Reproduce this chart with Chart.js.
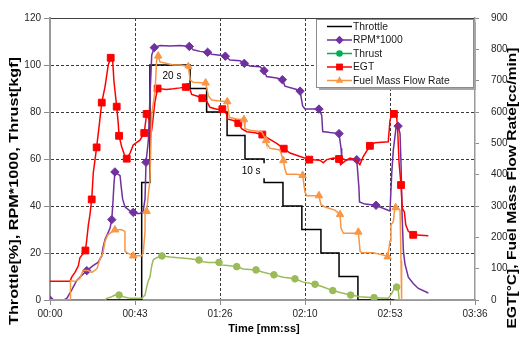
<!DOCTYPE html>
<html>
<head>
<meta charset="utf-8">
<script src="https://cdn.jsdelivr.net/npm/chart.js@4.4.1/dist/chart.umd.min.js"></script>
<style>
html,body{margin:0;padding:0;background:#fff;}
canvas{display:block;}
</style>
</head>
<body>
<canvas id="c" width="520" height="337"></canvas>
<script>
// ---------- DATA ----------
const xTickValues = [0, 43.2, 86.4, 129.6, 172.8, 216];
const xTickLabels = ['00:00', '00:43', '01:26', '02:10', '02:53', '03:36'];

const seriesNames = ['Throttle', 'RPM*1000', 'Thrust', 'EGT', 'Fuel Mass Flow Rate'];

const throttleT = [0, 46.6, 46.6, 50.8, 50.8, 71.2, 71.2, 79.6, 79.6, 90.0, 90.0, 99.1, 99.1, 108.8, 108.8, 118.4, 118.4, 128.0, 128.0, 137.7, 137.7, 146.9, 146.9, 156.5, 156.5, 175];
const throttleV = [0, 0, 50, 50, 100, 100, 90, 90, 80, 80, 70, 70, 60, 60, 50, 50, 40, 40, 30, 30, 20, 20, 10, 10, 0, 0];

const rpmT = [0, 7.1, 8.6, 11.0, 13.6, 16.1, 18.7, 21.9, 24.4, 26.3, 26.9, 28.0, 30.5, 31.4, 32.0, 32.5, 33.0, 35.6, 36.1, 36.9, 38.1, 40.7, 42.3, 43.2, 45.7, 47.4, 48.3, 48.8, 50.0, 50.8, 51.7, 53.0, 55.9, 61.0, 66.1, 70.8, 72.8, 76.2, 80.1, 82.2, 86.4, 89.1, 91.5, 96.6, 98.75, 101.6, 106.7, 108.8, 110.1, 115.2, 118.1, 119.4, 125.4, 127.1, 128.4, 129.6, 133.8, 136.7, 138.1, 138.6, 142.3, 146.9, 147.9, 148.25, 149.9, 155.9, 157.0, 157.3, 160.1, 165.7, 167.7, 171.8, 172.8, 173.7, 174.5, 175.8, 176.9, 177.9, 178.4, 178.9, 179.6, 180.4, 182.1, 184.6, 187.2, 192.3];
const rpmV = [0, 0, 0.8, 4.2, 8.3, 10.4, 12.5, 14.6, 16.0, 18.75, 22.2, 25.8, 30.5, 34.2, 41.7, 49.2, 54.5, 52.9, 48.75, 43.0, 39.6, 37.8, 37.3, 36.8, 36.8, 37.9, 43.0, 58.6, 68.0, 86.25, 104.2, 107.4, 108.3, 108.1, 108.3, 107.9, 106.5, 105.8, 105.4, 104.6, 104.2, 103.75, 102.1, 101.8, 100.7, 99.6, 99.3, 97.6, 95.1, 94.5, 93.75, 91.0, 89.6, 88.9, 82.6, 81.25, 81.25, 81.25, 78.5, 71.7, 71.25, 70.8, 64.6, 60.4, 59.7, 59.7, 47.9, 41.7, 40.8, 40.3, 39.6, 38.2, 37.9, 54.2, 63.9, 72.9, 74.0, 70.8, 58.3, 37.5, 20.8, 15.4, 9.7, 7.0, 4.9, 3.0];
const rpmMarkT = [0, 18.7, 31.4, 33.0, 42.3, 48.8, 53.0, 70.8, 80.1, 89.1, 98.75, 108.8, 118.1, 127.1, 136.7, 146.9, 155.9, 165.7, 176.9];

const thrustT = [0, 28.0, 28.8, 31.4, 33.0, 35.1, 37.25, 40.7, 46.6, 48.3, 49.1, 50.0, 50.8, 51.7, 52.5, 54.2, 56.9, 61.0, 65.2, 71.2, 75.7, 77.9, 80.45, 85.9, 87.3, 91.5, 94.9, 98.2, 104.7, 108.4, 113.8, 118.6, 124.5, 128.7, 134.7, 138.9, 143.7, 147.4, 152.8, 157.6, 164.7, 171.9, 173.7, 175.0, 176.2, 177.0, 177.5, 193.1];
const thrustV = [0, 0, 0.7, 1.4, 2.1, 2.1, 1.4, 0.7, 0.7, 2.1, 5.5, 8.3, 9.7, 14.6, 17.1, 18.0, 18.75, 18.3, 18.0, 17.6, 17.0, 16.25, 16.0, 16.0, 14.9, 14.6, 14.2, 13.2, 12.8, 11.8, 10.7, 9.7, 9.0, 7.6, 6.7, 5.5, 4.0, 3.2, 2.1, 1.4, 1.0, 0.7, 2.8, 4.9, 5.5, 4.2, 0, 0];
const thrustMarkT = [35.1, 56.9, 75.7, 85.9, 94.9, 104.7, 113.8, 124.5, 134.7, 143.7, 152.8, 164.7, 176.2];

const egtT = [0, 10.2, 11.0, 12.7, 14.4, 15.2, 18.0, 18.7, 19.5, 20.3, 21.2, 22.0, 23.7, 25.1, 26.3, 28.0, 29.6, 30.85, 31.9, 32.5, 33.9, 34.7, 35.1, 36.4, 38.1, 39.0, 40.7, 42.3, 45.7, 47.9, 49.1, 50.5, 51.1, 51.8, 53.4, 54.7, 59.3, 62.7, 66.1, 69.0, 71.2, 72.0, 74.6, 77.4, 79.6, 81.3, 84.7, 87.6, 89.8, 90.1, 93.2, 95.7, 97.4, 100.0, 104.2, 107.9, 110.1, 115.2, 118.8, 122.0, 127.1, 131.8, 137.2, 138.9, 140.6, 144.0, 146.9, 147.7, 149.9, 152.5, 155.9, 157.5, 159.2, 162.6, 165.2, 171.9, 172.8, 173.7, 174.8, 176.2, 176.7, 177.4, 178.4, 179.05, 180.1, 180.8, 182.1, 184.6, 192.3];
const egtV = [60, 60, 73, 88, 109, 135, 158, 193, 240, 272, 321, 406, 487, 562, 630, 682, 750, 773, 760, 698, 617, 562, 524, 490, 458, 451, 469, 495, 510, 533, 594, 573, 522, 547, 635, 675, 672, 674, 677, 680, 672, 656, 651, 644, 635, 615, 609, 609, 594, 578, 573, 565, 547, 537, 534, 528, 519, 500, 483, 469, 458, 448, 446, 438, 448, 453, 450, 432, 443, 453, 446, 432, 458, 492, 502, 505, 573, 594, 594, 583, 542, 438, 367, 292, 281, 240, 219, 208, 205];
const egtMarkT = [18.0, 21.2, 23.7, 26.3, 30.85, 33.9, 35.1, 39.0, 47.9, 49.1, 54.7, 69.0, 77.4, 87.6, 95.7, 107.9, 118.8, 131.8, 146.9, 162.6, 174.8, 178.4, 184.6];

const fuelT = [0, 10.2, 10.4, 12.7, 15.2, 16.8, 19.3, 21.3, 23.9, 25.4, 26.9, 28.0, 29.5, 33.0, 36.4, 38.1, 38.1, 39.0, 42.3, 46.6, 47.4, 48.3, 48.3, 49.1, 50.8, 51.7, 53.4, 54.2, 55.0, 55.9, 59.3, 62.7, 66.1, 70.3, 71.2, 72.8, 77.1, 79.1, 80.5, 82.2, 86.4, 90.1, 91.1, 94.9, 98.6, 99.1, 101.6, 107.6, 109.8, 110.1, 111.8, 116.9, 118.6, 119.4, 120.3, 125.4, 128.4, 129.6, 130.5, 134.7, 136.7, 137.7, 139.8, 144.8, 147.4, 147.9, 149.1, 155.0, 156.7, 157.6, 158.4, 164.3, 171.1, 171.6, 172.8, 173.3, 174.5, 175.0, 175.7, 177.0, 177.9, 178.4, 178.7, 193.1];
const fuelV = [0, 0, 62, 59, 69, 94, 94, 88, 100, 131, 150, 188, 209, 224, 224, 219, 156, 151, 141, 141, 151, 219, 275, 283, 385, 594, 667, 766, 779, 760, 755, 750, 750, 745, 703, 695, 693, 693, 651, 638, 635, 633, 583, 578, 576, 547, 542, 537, 509, 500, 484, 479, 445, 417, 401, 401, 398, 344, 333, 333, 333, 304, 297, 287, 273, 229, 213, 213, 217, 156, 151, 151, 141, 138, 188, 240, 250, 281, 295, 292, 287, 125, 0, 0];
const fuelMarkT = [33.0, 42.3, 49.1, 55.0, 70.3, 79.1, 90.1, 98.6, 109.8, 118.6, 128.4, 136.7, 147.4, 156.7, 171.6, 175.7];

const annText = ['20 s', '10 s'];
const annT = [62, 102.2];
const annV = [95.4, 55];

// ---------- STYLE ----------
const FONT = '"Liberation Sans", Arial, sans-serif';
const COLORS = ['#000000', '#7030A0', '#9BBB59', '#FF0000', '#F79646'];
const LEGEND_COLORS = ['#000000', '#7030A0', '#00B050', '#FF0000', '#F79646'];
const MARKERS = [null, 'rectRot', 'circle', 'rect', 'triangle'];
const MARKER_R = [0, 4.2, 3.3, 4.8, 4.3];

function zip(t, v) { return t.map((x, i) => ({ x: x, y: v[i] })); }
function markR(markT, r) {
  return ctx => (ctx.raw && markT.includes(ctx.raw.x)) ? r : 0;
}
function lineDs(idx, t, v, markT, axis, order) {
  return {
    label: seriesNames[idx],
    data: zip(t, v),
    yAxisID: axis,
    borderColor: COLORS[idx],
    backgroundColor: COLORS[idx],
    borderWidth: 1.5,
    fill: false,
    tension: 0,
    pointStyle: MARKERS[idx] || 'circle',
    pointRadius: markT ? markR(markT, MARKER_R[idx]) : 0,
    pointBackgroundColor: COLORS[idx],
    pointBorderColor: COLORS[idx],
    pointBorderWidth: 1,
    order: order
  };
}

function drawMarker(ctx, style, x, y, r, color) {
  ctx.save();
  ctx.fillStyle = color;
  ctx.beginPath();
  if (style === 'rectRot') {
    ctx.moveTo(x, y - r); ctx.lineTo(x + r, y); ctx.lineTo(x, y + r); ctx.lineTo(x - r, y); ctx.closePath();
  } else if (style === 'rect') {
    const s = r * Math.SQRT1_2;
    ctx.rect(x - s, y - s, 2 * s, 2 * s);
  } else if (style === 'circle') {
    ctx.arc(x, y, r, 0, Math.PI * 2);
  } else if (style === 'triangle') {
    for (let k = 0; k < 3; k++) {
      const a = k * 2 * Math.PI / 3;
      const px = x + Math.sin(a) * r, py = y - Math.cos(a) * r;
      if (k === 0) ctx.moveTo(px, py); else ctx.lineTo(px, py);
    }
    ctx.closePath();
  }
  ctx.fill();
  ctx.restore();
}

function drawStretched(ctx, text, cx, cy, targetLen, rot) {
  ctx.save();
  ctx.translate(cx, cy);
  ctx.rotate(rot);
  const w = ctx.measureText(text).width;
  ctx.scale(targetLen / w, 1);
  ctx.textAlign = 'center';
  ctx.textBaseline = 'middle';
  ctx.fillText(text, 0, 0);
  ctx.restore();
}

const overlay = {
  id: 'overlay',
  afterDatasetsDraw(chart) {
    const ctx = chart.ctx, xs = chart.scales.x, ys = chart.scales.y;
    ctx.save();
    ctx.font = '10px ' + FONT;
    ctx.textAlign = 'center';
    ctx.textBaseline = 'middle';
    annText.forEach((txt, i) => {
      const px = xs.getPixelForValue(annT[i]);
      const py = ys.getPixelForValue(annV[i]);
      const w = ctx.measureText(txt).width + 10, h = 15;
      ctx.fillStyle = '#ffffff';
      ctx.fillRect(px - w / 2, py - h / 2, w, h);
      ctx.fillStyle = '#000000';
      ctx.fillText(txt, px, py + 0.5);
    });
    ctx.restore();
  },
  afterDraw(chart) {
    const ctx = chart.ctx, ca = chart.chartArea;
    // legend box
    const bw = 157, bh = 68;
    const bx = ca.right - bw - 2, by = ca.top + 1;
    ctx.save();
    ctx.fillStyle = '#a6a6a6';
    ctx.fillRect(bx + 3, by + 3, bw, bh);
    ctx.fillStyle = '#ffffff';
    ctx.fillRect(bx, by, bw, bh);
    ctx.strokeStyle = '#8c8c8c';
    ctx.lineWidth = 1;
    ctx.strokeRect(Math.round(bx) + 0.5, Math.round(by) + 0.5, bw, bh);
    ctx.font = '10.3px ' + FONT;
    ctx.textBaseline = 'middle';
    ctx.textAlign = 'left';
    seriesNames.forEach((name, i) => {
      const y = by + 7.5 + i * 13.5;
      ctx.strokeStyle = LEGEND_COLORS[i];
      ctx.lineWidth = 1.5;
      ctx.beginPath();
      ctx.moveTo(bx + 11, y);
      ctx.lineTo(bx + 36, y);
      ctx.stroke();
      if (MARKERS[i]) drawMarker(ctx, MARKERS[i], bx + 23.5, y, MARKER_R[i], LEGEND_COLORS[i]);
      ctx.fillStyle = '#1a1a1a';
      ctx.fillText(name, bx + 37, y + 0.5);
    });
    // axis titles
    ctx.fillStyle = '#000000';
    ctx.font = 'bold 12px ' + FONT;
    drawStretched(ctx, 'Throttle[%], RPM*1000, Thrust[kgf]', 15, 191, 268, -Math.PI / 2);
    drawStretched(ctx, 'EGT[°C], Fuel Mass Flow Rate[cc/min]', 512.5, 188, 281, -Math.PI / 2);
    ctx.font = 'bold 11px ' + FONT;
    ctx.textAlign = 'center';
    ctx.textBaseline = 'middle';
    ctx.fillText('Time [mm:ss]', (ca.left + ca.right) / 2 + 1.5, 329);
    ctx.restore();
  }
};

const tickFont = { family: FONT, size: 10 };
const TICK_COLOR = '#262626';

new Chart(document.getElementById('c'), {
  type: 'line',
  data: {
    datasets: [
      lineDs(0, throttleT, throttleV, null, 'y', 5),
      lineDs(1, rpmT, rpmV, rpmMarkT, 'y', 4),
      lineDs(2, thrustT, thrustV, thrustMarkT, 'y', 3),
      lineDs(3, egtT, egtV, egtMarkT, 'y1', 2),
      lineDs(4, fuelT, fuelV, fuelMarkT, 'y1', 1)
    ]
  },
  options: {
    responsive: false,
    maintainAspectRatio: false,
    devicePixelRatio: 1,
    animation: false,
    events: [],
    layout: { padding: { top: 12, left: 0, right: 0, bottom: 0 } },
    plugins: { legend: { display: false }, tooltip: { enabled: false }, title: { display: false } },
    scales: {
      x: {
        type: 'linear',
        min: 0,
        max: 216,
        afterBuildTicks: s => { s.ticks = xTickValues.map(v => ({ value: v })); },
        afterFit: s => { s.height = 37; },
        ticks: {
          autoSkip: false, maxRotation: 0, minRotation: 0,
          font: tickFont, color: TICK_COLOR, padding: 3,
          callback: (v, i) => xTickLabels[i]
        },
        grid: {
          color: c => (c.tick && (c.tick.value === 0 || c.tick.value === 216)) ? 'rgba(0,0,0,0)' : '#3a3a3a',
          lineWidth: 1,
          drawTicks: true, tickLength: 5, tickColor: '#8c8c8c', tickWidth: 1
        },
        border: { display: true, color: '#999999', width: 2, dash: [3, 2] }
      },
      y: {
        type: 'linear',
        position: 'left',
        min: 0, max: 120,
        afterFit: s => { s.width = 50; },
        ticks: { stepSize: 20, font: tickFont, color: TICK_COLOR, padding: 3 },
        grid: {
          color: c => {
            if (!c.tick) return '#3a3a3a';
            if (c.tick.value === 0) return 'rgba(0,0,0,0)';
            if (c.tick.value === 120) return '#404040';
            return '#3a3a3a';
          },
          lineWidth: 1,
          drawTicks: true, tickLength: 6, tickColor: '#8c8c8c', tickWidth: 1
        },
        border: {
          display: true, color: '#999999', width: 2,
          dash: c => (c.tick && c.tick.value === 120) ? [] : [3, 2]
        }
      },
      y1: {
        type: 'linear',
        position: 'right',
        min: 0, max: 900,
        afterFit: s => { s.width = 45; },
        ticks: { stepSize: 100, font: tickFont, color: TICK_COLOR, padding: 12 },
        grid: { drawOnChartArea: false, drawTicks: true, tickLength: 4, tickColor: '#8c8c8c', tickWidth: 1 },
        border: { display: true, color: '#999999', width: 1.5 }
      }
    }
  },
  plugins: [overlay]
});
</script>
</body>
</html>
